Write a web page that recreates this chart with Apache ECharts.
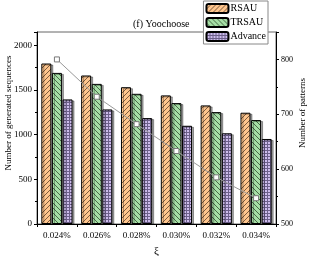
<!DOCTYPE html>
<html>
<head>
<meta charset="utf-8">
<script src="https://cdn.jsdelivr.net/npm/echarts@6/dist/echarts.min.js"></script>
<style>html,body{margin:0;padding:0;background:#fff}#c{width:309px;height:256px}</style>
</head>
<body>
<div id="c"></div>
<script>
const categories = ['0.024%', '0.026%', '0.028%', '0.030%', '0.032%', '0.034%'];
const rsau = [1797, 1663, 1532, 1440, 1328, 1246];
const trsau = [1692, 1569, 1458, 1354, 1253, 1164];
const advance = [1395, 1283, 1186, 1100, 1016, 952];
const patterns = [800, 732, 682, 633, 585, 547];
const leftTicks = [0, 500, 1000, 1500, 2000];
const rightTicks = [500, 600, 700, 800];

const FONT = 'Liberation Serif';

function hatch(bg, fg, dir) {
  const p = 5;
  const c = document.createElement('canvas');
  c.width = p; c.height = p;
  const g = c.getContext('2d');
  g.fillStyle = bg; g.fillRect(0, 0, p, p);
  g.strokeStyle = fg; g.lineWidth = 0.8;
  g.beginPath();
  if (dir > 0) {
    g.moveTo(0, p); g.lineTo(p, 0);
    g.moveTo(-1, 1); g.lineTo(1, -1);
    g.moveTo(p - 1, p + 1); g.lineTo(p + 1, p - 1);
  } else {
    g.moveTo(0, 0); g.lineTo(p, p);
    g.moveTo(-1, p - 1); g.lineTo(1, p + 1);
    g.moveTo(p - 1, -1); g.lineTo(p + 1, 1);
  }
  g.stroke();
  return { image: c, repeat: 'repeat' };
}
function grid(bg, fg) {
  const p = 3;
  const c = document.createElement('canvas');
  c.width = p; c.height = p;
  const g = c.getContext('2d');
  g.fillStyle = bg; g.fillRect(0, 0, p, p);
  g.fillStyle = fg;
  g.fillRect(0, 0, p, 1);
  g.fillRect(0, 0, 1, p);
  return { image: c, repeat: 'repeat' };
}

const barStyle = (fill) => ({
  color: fill,
  borderColor: '#000',
  borderWidth: 1,
  shadowColor: 'rgba(0,0,0,0.35)',
  shadowOffsetX: 2,
  shadowOffsetY: 1,
  shadowBlur: 0
});

const chart = echarts.init(document.getElementById('c'));
chart.setOption({
  animation: false,
  backgroundColor: '#fff',
  textStyle: { fontFamily: FONT },
  title: {
    text: '(f) Yoochoose',
    left: 128, top: 14,
    textStyle: { fontFamily: FONT, fontSize: 10, fontWeight: 'normal', color: '#000' }
  },
  legend: {
    data: ['RSAU', 'TRSAU', 'Advance'],
    orient: 'vertical',
    right: 41, top: 1,
    itemWidth: 22, itemHeight: 9, itemGap: 3,
    padding: [2, 2, 2, 2],
    backgroundColor: '#fff',
    borderColor: '#888', borderWidth: 1,
    textStyle: { fontFamily: FONT, fontSize: 10, color: '#000', padding: [0, 0, 0, -3] }
  },
  grid: {
    left: 37, right: 33, top: 32, bottom: 32,
    containLabel: false,
    outerBoundsMode: 'none',
    show: true, borderColor: '#666', borderWidth: 1
  },
  xAxis: {
    type: 'category',
    data: categories,
    name: 'ξ',
    nameLocation: 'middle',
    nameGap: 22,
    nameMoveOverlap: false,
    nameTextStyle: { fontFamily: FONT, fontSize: 11, color: '#000' },
    axisLine: { lineStyle: { color: '#000', width: 1 } },
    axisTick: { show: true, alignWithLabel: false, interval: 0, length: 3, lineStyle: { color: '#000' } },
    axisLabel: { interval: 0, fontFamily: FONT, fontSize: 9, color: '#000', margin: 7 }
  },
  yAxis: [
    {
      type: 'value', min: 0, max: 2150, interval: 500,
      name: 'Number of generated sequences',
      nameLocation: 'middle', nameGap: 24, nameRotate: 90,
      nameMoveOverlap: false,
      nameTextStyle: { fontFamily: FONT, fontSize: 9, color: '#000', padding: [0, 0, 0, 30] },
      axisLine: { show: true, lineStyle: { color: '#000' } },
      axisTick: { show: true, length: 3, lineStyle: { color: '#000' } },
      minorTick: { show: true, splitNumber: 2, length: 2, lineStyle: { color: '#000' } },
      splitLine: { show: false },
      axisLabel: { fontFamily: FONT, fontSize: 9, color: '#000', margin: 5, showMaxLabel: false,
        formatter: v => leftTicks.includes(v) ? String(v) : '' }
    },
    {
      type: 'value', min: 500, max: 850, interval: 100,
      position: 'right',
      name: 'Number of patterns',
      nameLocation: 'middle', nameGap: 22, nameRotate: 90,
      nameMoveOverlap: false,
      nameTextStyle: { fontFamily: FONT, fontSize: 9, color: '#000', padding: [0, 0, 0, 30] },
      axisLine: { show: true, lineStyle: { color: '#000' } },
      axisTick: { show: true, length: 3, lineStyle: { color: '#000' } },
      minorTick: { show: true, splitNumber: 2, length: 2, lineStyle: { color: '#000' } },
      splitLine: { show: false },
      axisLabel: { fontFamily: FONT, fontSize: 8, color: '#000', margin: 5, showMaxLabel: false,
        formatter: v => rightTicks.includes(v) ? String(v) : '' }
    }
  ],
  series: [
    { name: 'RSAU', type: 'bar', data: rsau, barWidth: 10, barGap: '6%',
      itemStyle: barStyle(hatch('#FFC68E', '#5a4028', 1)) },
    { name: 'TRSAU', type: 'bar', data: trsau, barWidth: 10, barGap: '6%',
      itemStyle: barStyle(hatch('#A6DFA6', '#2e4a2e', -1)) },
    { name: 'Advance', type: 'bar', data: advance, barWidth: 10, barGap: '6%',
      itemStyle: barStyle(grid('#CDBCEC', '#6c5f8a')) },
    { name: 'Patterns', type: 'line', yAxisIndex: 1, data: patterns, z: 5,
      symbol: 'rect', symbolSize: 5,
      lineStyle: { color: '#999', width: 1 },
      itemStyle: { color: '#fff', borderColor: '#777', borderWidth: 1 } }
  ]
});
</script>
</body>
</html>
